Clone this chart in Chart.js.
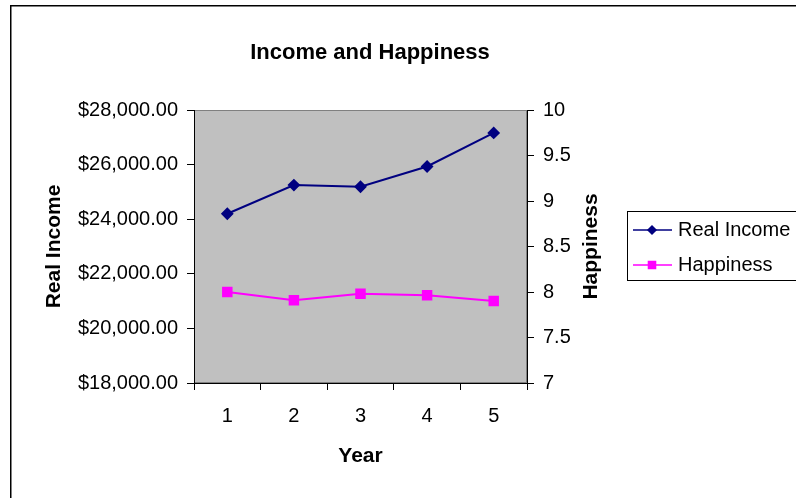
<!DOCTYPE html>
<html>
<head>
<meta charset="utf-8">
<title>Income and Happiness</title>
<script src="https://cdn.jsdelivr.net/npm/chart.js@4"></script>
<style>
  html, body { margin: 0; padding: 0; background: #fff; }
  #wrap { width: 796px; height: 498px; position: relative; }
</style>
</head>
<body>
<div id="wrap"><canvas id="grafico" width="796" height="498"></canvas></div>
<script>
const years = ["1", "2", "3", "4", "5"];
const realIncome = [24200, 25250, 25190, 25930, 27160];
const happiness = [8.0, 7.91, 7.98, 7.965, 7.9];
const incomeTicks = [18000, 20000, 22000, 24000, 26000, 28000];
const happinessTicks = [7, 7.5, 8, 8.5, 9, 9.5, 10];

const fontFamily = "'Liberation Sans', Arial, sans-serif";

function dinheiro(v) {
  return "$" + v.toLocaleString("en-US", { minimumFractionDigits: 2, maximumFractionDigits: 2 });
}

// fundo cinza, moldura, titulo, titulo do eixo direito e legenda
const extras = {
  id: "extras",
  beforeDraw(chart) {
    const { ctx, chartArea: a } = chart;
    ctx.save();
    ctx.fillStyle = "#ffffff";
    ctx.fillRect(0, 0, chart.width, chart.height);
    ctx.strokeStyle = "#000000";
    ctx.lineWidth = 1.5;
    ctx.strokeRect(10.75, 5.75, chart.width + 20, chart.height + 20);
    ctx.fillStyle = "#c0c0c0";
    ctx.fillRect(a.left, a.top, a.right - a.left, a.bottom - a.top);
    ctx.strokeStyle = "#808080";
    ctx.lineWidth = 1;
    ctx.strokeRect(a.left + 0.5, a.top + 0.5, a.right - a.left - 1, a.bottom - a.top - 1);
    ctx.restore();
  },
  afterDraw(chart) {
    const { ctx } = chart;
    ctx.save();
    ctx.fillStyle = "#000000";
    ctx.font = "bold 22px " + fontFamily;
    ctx.textAlign = "center";
    ctx.textBaseline = "alphabetic";
    ctx.fillText("Income and Happiness", 370, 59);

    // titulo do eixo direito, lido de baixo para cima como no Excel
    ctx.font = "bold 21px " + fontFamily;
    ctx.translate(591.5, (chart.chartArea.top + chart.chartArea.bottom) / 2);
    ctx.rotate(-Math.PI / 2);
    ctx.textBaseline = "middle";
    ctx.fillText("Happiness", 0, 0);
    ctx.restore();

    // legenda
    ctx.save();
    ctx.strokeStyle = "#000000";
    ctx.lineWidth = 1;
    ctx.strokeRect(627.5, 211.5, 200, 69);
    ctx.font = "20px " + fontFamily;
    ctx.textAlign = "left";
    ctx.textBaseline = "middle";
    const linhas = [230, 265];
    chart.data.datasets.forEach((ds, i) => {
      const y = linhas[i];
      ctx.strokeStyle = ds.borderColor;
      ctx.fillStyle = ds.backgroundColor;
      ctx.lineWidth = 1.5;
      ctx.beginPath();
      ctx.moveTo(633, y);
      ctx.lineTo(672, y);
      ctx.stroke();
      Chart.helpers.drawPoint(ctx, {
        pointStyle: ds.pointStyle,
        radius: ds.legendRadius,
        borderWidth: 1,
        rotation: 0
      }, 652, y);
      ctx.fillStyle = "#000000";
      ctx.fillText(ds.label, 678, y);
    });
    ctx.restore();
  }
};

new Chart(document.getElementById("grafico").getContext("2d"), {
  type: "line",
  data: {
    labels: years,
    datasets: [
      {
        label: "Real Income",
        data: realIncome,
        yAxisID: "y",
        borderColor: "#000080",
        backgroundColor: "#000080",
        borderWidth: 2,
        pointStyle: "rectRot",
        pointRadius: 5,
        pointHoverRadius: 5,
        legendRadius: 4,
        tension: 0
      },
      {
        label: "Happiness",
        data: happiness,
        yAxisID: "y1",
        borderColor: "#ff00ff",
        backgroundColor: "#ff00ff",
        borderWidth: 2,
        pointStyle: "rect",
        pointRadius: 6,
        pointHoverRadius: 6,
        legendRadius: 5,
        tension: 0
      }
    ]
  },
  options: {
    responsive: false,
    animation: false,
    layout: { padding: { left: 0, right: 176, top: 110, bottom: 0 } },
    plugins: {
      legend: { display: false },
      title: { display: false },
      tooltip: { enabled: false }
    },
    scales: {
      x: {
        type: "category",
        offset: true,
        afterFit(scale) { scale.height = 115; },
        grid: { display: true, drawOnChartArea: false, offset: true, tickLength: 7, color: "#000000" },
        border: { display: true, color: "#000000", width: 1 },
        ticks: { color: "#000000", padding: 14, font: { family: fontFamily, size: 20 } },
        title: {
          display: true,
          text: "Year",
          color: "#000000",
          padding: { top: 0, bottom: 29 },
          font: { family: fontFamily, size: 21, weight: "bold" }
        }
      },
      y: {
        position: "left",
        min: incomeTicks[0],
        max: incomeTicks[incomeTicks.length - 1],
        afterFit(scale) { scale.width = 194; },
        afterBuildTicks(scale) { scale.ticks = incomeTicks.map(v => ({ value: v })); },
        grid: { display: true, drawOnChartArea: false, tickLength: 7, color: "#000000" },
        border: { display: true, color: "#000000", width: 1 },
        ticks: {
          color: "#000000",
          padding: 9,
          font: { family: fontFamily, size: 20 },
          callback: v => dinheiro(v)
        },
        title: {
          display: true,
          text: "Real Income",
          color: "#000000",
          padding: { top: 42, bottom: 0 },
          font: { family: fontFamily, size: 21, weight: "bold" }
        }
      },
      y1: {
        position: "right",
        min: happinessTicks[0],
        max: happinessTicks[happinessTicks.length - 1],
        afterFit(scale) { scale.width = 93; },
        afterBuildTicks(scale) { scale.ticks = happinessTicks.map(v => ({ value: v })); },
        grid: { display: true, drawOnChartArea: false, tickLength: 7, color: "#000000" },
        border: { display: true, color: "#000000", width: 1 },
        ticks: {
          color: "#000000",
          padding: 9,
          font: { family: fontFamily, size: 20 },
          callback: v => String(v)
        },
        title: { display: false }
      }
    }
  },
  plugins: [extras]
});
</script>
</body>
</html>
